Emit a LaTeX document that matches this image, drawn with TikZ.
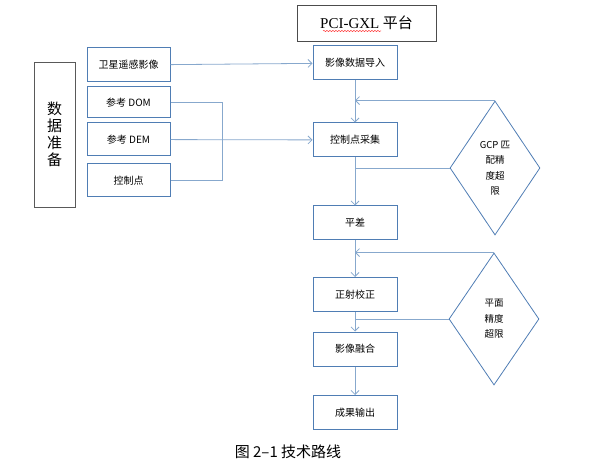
\documentclass[tikz,border=0pt]{standalone}
\usepackage{fontspec}
\setmainfont{Noto Sans CJK SC}
\newfontfamily\latinserif{Liberation Serif}
\usepackage{tikz}
\usepackage{xcolor}
\usetikzlibrary{shapes.geometric, arrows.meta, decorations.pathmorphing}
\definecolor{boxblue}{RGB}{79,125,180}
\definecolor{lineblue}{RGB}{135,168,205}
\tikzstyle{block} = [rectangle, minimum width=84pt, minimum height=34pt, text centered, draw=boxblue, line width=1pt, font=\fontsize{10pt}{12pt}\selectfont]
\tikzstyle{check} = [diamond, minimum width=90pt, minimum height=134pt, inner sep=0pt, draw=boxblue, line width=0.8pt, align=center, font=\fontsize{9.5pt}{15.5pt}\selectfont]
\tikzstyle{link} = [draw=lineblue, line width=0.8pt]
\tikzstyle{arrow} = [link, -{Straight Barb[length=4pt,width=8pt]}]

\begin{document}
\begin{tikzpicture}[x=1pt, y=-1pt, node distance=70pt]
\useasboundingbox (0,0) rectangle (600,465);
% platform and main column
\node (platform) [rectangle, minimum width=139pt, minimum height=36pt, draw=black!70, line width=0.8pt, font=\fontsize{15pt}{18pt}\selectfont] at (366.5,23) {{\latinserif PCI-GXL} 平台};
\draw [red!80, line width=0.5pt, decorate, decoration={snake, amplitude=0.6pt, segment length=3pt}] (323,31) -- (381,31);
\node (daoru) [block] at (355,63) {影像数据导入};
\node (caiji) [block, below of=daoru, yshift=-7pt] {控制点采集};
\node (pingcha) [block, below of=caiji, yshift=-13pt] {平差};
\node (zhengshe) [block, below of=pingcha, yshift=-1.5pt] {正射校正};
\node (ronghe) [block, below of=zhengshe, yshift=15.5pt] {影像融合};
\node (shuchu) [block, below of=ronghe, yshift=6.5pt] {成果输出};
% data preparation
\node (shuju) [rectangle, minimum width=41pt, minimum height=145pt, draw=black!65, line width=0.8pt, align=center, font=\fontsize{15pt}{17pt}\selectfont] at (54.5,134.5) {数\\据\\准\\备};
\node (weixing) [block, minimum width=83pt] at (128.5,65) {卫星遥感影像};
\node (dom) [block, minimum width=83pt, minimum height=31pt] at (128.5,102.5) {参考 DOM};
\node (dem) [block, minimum width=83pt, minimum height=33pt] at (128.5,139.5) {参考 DEM};
\node (kzd) [block, minimum width=83pt, minimum height=33pt] at (128.5,180.5) {控制点};
% checks
\node (gcp) [check] at (495,168) {GCP 匹\\配精\\度超\\限};
\node (pingmian) [check, minimum height=132pt] at (494,319) {平面\\精度\\超限};
% connectors
\draw [arrow] (weixing) -- (daoru);
\draw [arrow] (dem) -- (caiji);
\draw [link] (dom.east) -- ++(52,0) |- (kzd.east);
\draw [arrow] (daoru) -- (caiji);
\draw [arrow] (caiji) -- (pingcha);
\draw [arrow] (pingcha) -- (zhengshe);
\draw [arrow] (zhengshe) -- (ronghe);
\draw [arrow] (ronghe) -- (shuchu);
\draw [arrow] (gcp.north) -- (gcp.north -| daoru.south);
\draw [link] (gcp.west) -- (gcp.west -| caiji.south);
\draw [arrow] (pingmian.north) -- (pingmian.north -| pingcha.south);
\draw [link] (pingmian.west) -- (pingmian.west -| zhengshe.south);
% caption
\node (caption) [font=\fontsize{15pt}{18pt}\selectfont] at (288,452) {图 2–1 技术路线};
\end{tikzpicture}
\end{document}
